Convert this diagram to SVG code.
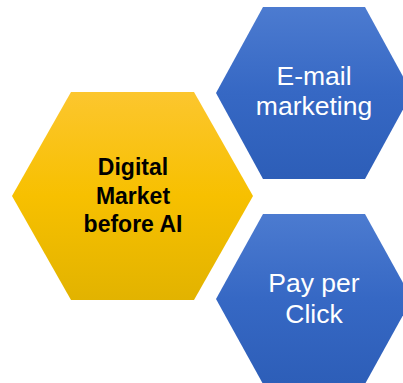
<svg xmlns="http://www.w3.org/2000/svg" width="403" height="383" viewBox="0 0 403 383">
<defs>
<linearGradient id="gold" x1="0" y1="0" x2="0" y2="1">
<stop offset="0" stop-color="#fcc62e"/>
<stop offset="0.5" stop-color="#f7c000"/>
<stop offset="1" stop-color="#e2b300"/>
</linearGradient>
<linearGradient id="blue" x1="0" y1="0" x2="0" y2="1">
<stop offset="0" stop-color="#4c7bd0"/>
<stop offset="0.5" stop-color="#3668c4"/>
<stop offset="1" stop-color="#2d5eb8"/>
</linearGradient>
<style>
.t{font-family:"Liberation Sans",Arial,sans-serif;text-anchor:middle}
.g{font-size:23px;font-weight:bold;fill:#000}
.b{font-size:26.5px;fill:#fff}
</style>
</defs>
<rect width="403" height="383" fill="#fff"/>
<g id="connectors"></g>
<g id="digital-market">
<polygon points="12,196 71,92 194,92 253,196 194,300 71,300" fill="url(#gold)"/>
<text class="t g" x="133" y="175">Digital</text>
<text class="t g" x="133" y="204">Market</text>
<text class="t g" x="133" y="232">before AI</text>
</g>
<g id="email-marketing">
<polygon points="216,93 263,7 365,7 412,93 365,179 263,179" fill="url(#blue)"/>
<text class="t b" x="314" y="85">E-mail</text>
<text class="t b" x="314" y="115">marketing</text>
</g>
<g id="pay-per-click">
<polygon points="216,299 263,214 365,214 412,299 365,384 263,384" fill="url(#blue)"/>
<text class="t b" x="314" y="292">Pay per</text>
<text class="t b" x="314" y="323">Click</text>
</g>
</svg>
